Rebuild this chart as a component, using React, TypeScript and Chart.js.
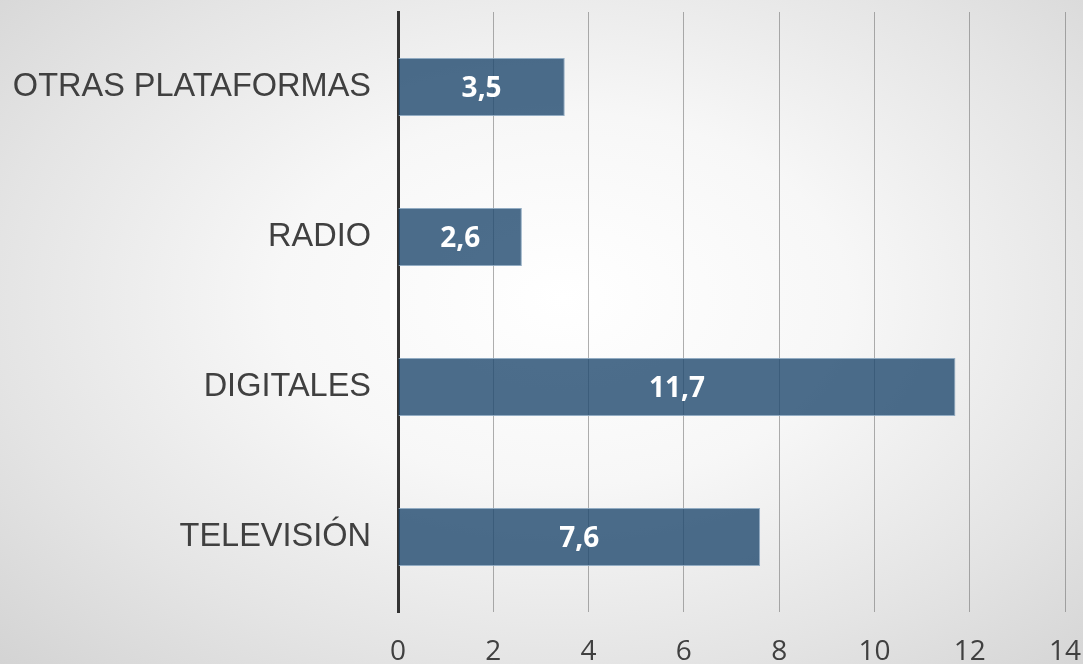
import React, { useEffect, useRef } from "react";
import { Chart, registerables } from "chart.js";

Chart.register(...registerables);

const categories = ["OTRAS PLATAFORMAS", "RADIO", "DIGITALES", "TELEVISIÓN"];
const values = [3.5, 2.6, 11.7, 7.6];
const xMin = 0;
const xMax = 14;
const xStep = 2;

const valueLabels = {
  id: "valueLabels",
  afterDatasetsDraw(chart: any) {
    const ctx = chart.ctx;
    const meta = chart.getDatasetMeta(0);
    ctx.save();
    ctx.fillStyle = "#ffffff";
    ctx.font = 'bold 28px "Open Sans"';
    ctx.textAlign = "center";
    ctx.textBaseline = "middle";
    meta.data.forEach((bar: any, i: number) => {
      const v = chart.data.datasets[0].data[i];
      const cx = (bar.x + bar.base) / 2;
      ctx.fillText(String(v).replace(".", ","), cx, bar.y + 2);
    });
    ctx.restore();
  },
};

export default function App() {
  const ref = useRef<HTMLCanvasElement>(null);
  useEffect(() => {
    document.body.style.margin = "0";
    const chart = new Chart(ref.current!, {
      type: "bar",
      data: {
        labels: categories,
        datasets: [
          {
            data: values,
            backgroundColor: "rgba(31,73,110,0.8)",
            borderColor: "rgba(140,168,192,0.95)",
            borderWidth: 1,
            categoryPercentage: 1,
            barPercentage: 0.387,
          },
        ],
      },
      options: {
        indexAxis: "y",
        responsive: false,
        animation: false,
        layout: { padding: { top: 12, right: 18, bottom: 0, left: 0 } },
        plugins: { legend: { display: false }, tooltip: { enabled: false } },
        scales: {
          x: {
            min: xMin,
            max: xMax,
            ticks: {
              stepSize: xStep,
              color: "#404040",
              font: { family: "Open Sans", size: 28 },
              padding: 23,
            },
            grid: { color: "rgba(110,110,110,0.55)", lineWidth: 1, drawTicks: false },
            border: { display: false },
            afterFit(scale: any) {
              scale.height = 52;
              scale.paddingLeft = 0;
              scale.paddingRight = 0;
            },
          },
          y: {
            ticks: {
              color: "#404040",
              font: { family: "Liberation Sans", size: 32.5 },
              padding: 27,
            },
            grid: { display: false, drawTicks: false },
            border: { display: true, color: "#333333", width: 3 },
            afterFit(scale: any) {
              scale.width = 398;
              scale.paddingTop = 0;
              scale.paddingBottom = 0;
            },
          },
        },
      },
      plugins: [valueLabels],
    } as any);
    return () => chart.destroy();
  }, []);
  return (
    <div
      style={{
        position: "fixed",
        left: 0,
        top: 0,
        width: 1083,
        height: 664,
        background:
          "radial-gradient(ellipse 75% 80% at 52% 45%, #ffffff 0%, #f7f7f7 35%, #e4e4e4 70%, #d2d2d2 100%)",
      }}
    >
      <canvas ref={ref} width={1083} height={664} />
    </div>
  );
}
